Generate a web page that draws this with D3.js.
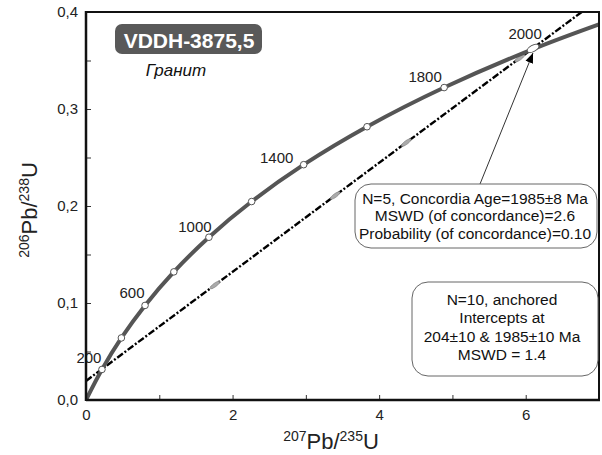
<!DOCTYPE html>
<html><head><meta charset="utf-8">
<script src="https://cdn.jsdelivr.net/npm/d3@7"></script>
<style>body{margin:0;background:#fff}svg{display:block;font-family:Arial,"Liberation Sans",sans-serif}</style>
</head><body><svg id="c" width="602" height="455"></svg>
<script>
// Concordia curve (ages in Ma)
const concAges = [0,200,400,600,800,1000,1200,1400,1600,1800,2000,2200];
const concX = [0,0.2177,0.4828,0.8057,1.1987,1.6774,2.2604,2.9702,3.8347,4.8869,6.1685,7.7294];
const concY = [0,0.0315,0.0640,0.0975,0.1321,0.1678,0.2046,0.2426,0.2817,0.3221,0.3638,0.4067];
const markerAges = [200,400,600,800,1000,1200,1400,1600,1800];
const labelAges = [200,600,1000,1400,1800,2000];
const labelOffsets = [[-13,-12],[-13,-13],[-14,-11],[-27,-7],[-19,-11],[-13,-14]];
// Discordia intercepts (207Pb/235U, 206Pb/238U)
const discLower = [0.2225,0.03215];
const discUpper = [6.063,0.3606];
// analyses (error ellipses)
const ptsX = [1.76,3.40,4.37,5.92];
const ptsY = [0.1186,0.2108,0.2654,0.3525];
const concAgePt = [6.10,0.3625];
const xTicks = [0,1,2,3,4,5,6,7];
const xTickLabels = ["0","","2","","4","","6",""];
const yTicks = [0,0.05,0.1,0.15,0.2,0.25,0.3,0.35,0.4];
const yTickLabels = ["0,0","","0,1","","0,2","","0,3","","0,4"];
const titleText = "VDDH-3875,5";
const subtitleText = "Гранит";
const box1Lines = ["N=5, Concordia Age=1985±8 Ma","MSWD (of concordance)=2.6","Probability (of concordance)=0.10"];
const box2Lines = ["N=10, anchored","Intercepts at","204±10 & 1985±10 Ma","MSWD = 1.4"];

const svg = d3.select("#c");
const L=86,R=599,T=12,B=400;
const x = d3.scaleLinear().domain([0,7]).range([L,R]);
const y = d3.scaleLinear().domain([0,0.4]).range([B,T]);

svg.append("defs").append("clipPath").attr("id","clip")
  .append("rect").attr("x",L).attr("y",T).attr("width",R-L).attr("height",B-T);
svg.select("defs").append("marker").attr("id","ah").attr("viewBox","0 0 10 10")
  .attr("refX",10).attr("refY",5).attr("markerWidth",10).attr("markerHeight",10)
  .attr("markerUnits","userSpaceOnUse").attr("orient","auto")
  .append("path").attr("d","M0,1 L10,5 L0,9 Z").attr("fill","#000");

const g = svg.append("g").attr("clip-path","url(#clip)");

// discordia line
const slope = (discUpper[1]-discLower[1])/(discUpper[0]-discLower[0]);
const y0 = discLower[1]-slope*discLower[0];
g.append("line").attr("x1",x(0)).attr("y1",y(y0)).attr("x2",x(7.5)).attr("y2",y(y0+slope*7.5))
  .attr("stroke","#000").attr("stroke-width",2.4).attr("stroke-dasharray","7,2,2,2");

// analyses ellipses
const ang = Math.atan2(y(y0+slope)-y(y0), x(1)-x(0))*180/Math.PI;
ptsX.forEach((px,i)=>{
  g.append("ellipse").attr("transform",`translate(${x(px)},${y(ptsY[i])}) rotate(${ang})`)
   .attr("rx",6).attr("ry",1.8).attr("fill","#aaa").attr("stroke","#888").attr("stroke-width",0.6);
});

// concordia
const pts = concX.map((v,i)=>[x(v),y(concY[i])]);
g.append("path").attr("d",d3.line().curve(d3.curveCatmullRom)(pts))
  .attr("fill","none").attr("stroke","#555").attr("stroke-width",4);

// concordia markers
markerAges.forEach(a=>{
  const i = concAges.indexOf(a);
  g.append("circle").attr("cx",x(concX[i])).attr("cy",y(concY[i])).attr("r",3.3)
   .attr("fill","#fff").attr("stroke","#555").attr("stroke-width",1);
});
// concordia age ellipse
{
  const i=concAges.indexOf(2000);
  const a2 = Math.atan2(y(concY[i+1])-y(concY[i-1]), x(concX[i+1])-x(concX[i-1]))*180/Math.PI;
  g.append("ellipse").attr("transform",`translate(${x(concAgePt[0])},${y(concAgePt[1])}) rotate(${a2-8})`)
   .attr("rx",6.5).attr("ry",3.2).attr("fill","#fff").attr("stroke","#555").attr("stroke-width",1);
}

// age labels
labelAges.forEach((a,k)=>{
  const i = concAges.indexOf(a);
  svg.append("text").attr("x",x(concX[i])+labelOffsets[k][0]).attr("y",y(concY[i])+labelOffsets[k][1])
   .attr("text-anchor","middle").attr("dominant-baseline","central")
   .attr("font-size",15).attr("fill","#222").text(a);
});

// axes
const xa = svg.append("g").attr("transform",`translate(0,${B})`)
  .call(d3.axisBottom(x).tickValues(xTicks).tickSize(-5).tickPadding(9).tickFormat((d,i)=>xTickLabels[i]));
const ya = svg.append("g").attr("transform",`translate(${L},0)`)
  .call(d3.axisLeft(y).tickValues(yTicks).tickSize(-5).tickPadding(8).tickFormat((d,i)=>yTickLabels[i]));
[xa,ya].forEach(a=>{
  a.select(".domain").remove();
  a.selectAll(".tick line").attr("stroke","#333").attr("stroke-width",1);
  a.selectAll(".tick text").attr("font-size",15).attr("fill","#222").attr("font-family","Arial, Liberation Sans, sans-serif");
});
// frame
svg.append("rect").attr("x",L).attr("y",T).attr("width",R-L).attr("height",B-T)
  .attr("fill","none").attr("stroke","#111").attr("stroke-width",2);
svg.append("line").attr("x1",L).attr("x2",R+1).attr("y1",B).attr("y2",B).attr("stroke","#111").attr("stroke-width",2.5);
svg.append("line").attr("x1",L).attr("x2",L).attr("y1",T-1).attr("y2",B+1).attr("stroke","#111").attr("stroke-width",2.5);

// axis titles
const xt = svg.append("text").attr("x",331).attr("y",449).attr("text-anchor","middle").attr("font-size",22).attr("fill","#222");
xt.append("tspan").attr("font-size",14).attr("dy",-8).text("207");
xt.append("tspan").attr("dy",8).text("Pb/");
xt.append("tspan").attr("font-size",14).attr("dy",-8).text("235");
xt.append("tspan").attr("dy",8).text("U");
const yt = svg.append("text").attr("transform","translate(37,210) rotate(-90)").attr("text-anchor","middle").attr("font-size",22).attr("fill","#222");
yt.append("tspan").attr("font-size",14).attr("dy",-8).text("206");
yt.append("tspan").attr("dy",8).text("Pb/");
yt.append("tspan").attr("font-size",14).attr("dy",-8).text("238");
yt.append("tspan").attr("dy",8).text("U");

// title box
svg.append("rect").attr("x",115).attr("y",24).attr("width",147).attr("height",30).attr("rx",7)
  .attr("fill","#595959");
svg.append("text").attr("x",189).attr("y",40).attr("text-anchor","middle").attr("dominant-baseline","central")
  .attr("font-size",21).attr("font-weight","bold").attr("fill","#fff").text(titleText);
svg.append("text").attr("x",176).attr("y",70).attr("text-anchor","middle").attr("dominant-baseline","central")
  .attr("font-size",17).attr("font-style","italic").attr("fill","#111").text(subtitleText);

// arrow
svg.append("line").attr("x1",480).attr("y1",184).attr("x2",533).attr("y2",53)
  .attr("stroke","#333").attr("stroke-width",1).attr("marker-end","url(#ah)");

// info boxes
function infoBox(bx,by,bw,bh,lines,cx,ly0,lh){
  svg.append("rect").attr("x",bx).attr("y",by).attr("width",bw).attr("height",bh).attr("rx",16)
    .attr("fill","#fff").attr("stroke","#666").attr("stroke-width",1);
  lines.forEach((t,i)=>svg.append("text").attr("x",cx).attr("y",ly0+i*lh)
    .attr("text-anchor","middle").attr("dominant-baseline","central").attr("font-size",15.5).attr("fill","#111").text(t));
}
infoBox(355,184,242,64,box1Lines,475,198,17.5);
infoBox(412,282,186,94,box2Lines,502,299,18.5);
</script></body></html>
